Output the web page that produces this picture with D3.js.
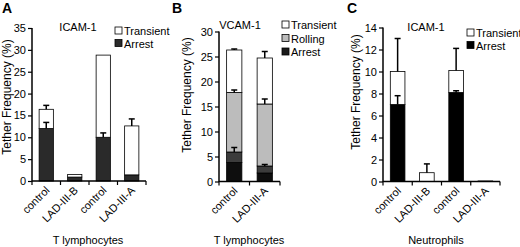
<!DOCTYPE html>
<html>
<head>
<meta charset="utf-8">
<script src="https://cdn.jsdelivr.net/npm/d3@7"></script>
<style>
  body { margin: 0; background: #fff; }
  svg { display: block; font-family: "Liberation Sans", Arial, sans-serif; }
</style>
</head>
<body>
<div id="chart"></div>
<script>
// Panel A - ICAM-1, T lymphocytes
var catsA = ["control", "LAD-III-B", "control", "LAD-III-A"];
var arrestA = [12, 0.9, 10, 1.4];
var arrestErrA = [1.4, 0, 1.0, 0];
var transientA = [4.4, 0.6, 18.8, 11.2];
var transientErrA = [0.9, 0, 0, 1.6];
var ticksA = [0, 5, 10, 15, 20, 25, 30, 35];

// Panel B - VCAM-1, T lymphocytes
var catsB = ["control", "LAD-III-A"];
var arrestB = [3.8, 1.7];
var arrest2B = [2.1, 1.4];
var arrest2ErrB = [0.9, 0.3];
var rollingB = [11.9, 12.4];
var rollingErrB = [0.5, 1.0];
var transientB = [8.5, 9.2];
var transientErrB = [0.2, 1.3];
var ticksB = [0, 5, 10, 15, 20, 25, 30];

// Panel C - ICAM-1, Neutrophils
var catsC = ["control", "LAD-III-B", "control", "LAD-III-A"];
var arrestC = [7.0, 0, 8.1, 0];
var arrestErrC = [0.8, 0, 0.15, 0];
var transientC = [3.0, 0.8, 2.0, 0.05];
var transientErrC = [3.0, 0.8, 2.0, 0];
var ticksC = [0, 2, 4, 6, 8, 10, 12, 14];

var svg = d3.select('#chart').append('svg').attr('width', 520).attr('height', 247);

function drawPanel(p) {
    var x = d3.scaleBand().domain(d3.range(p.cats.length)).range([p.x0, p.x1]).paddingInner(0.5).paddingOuter(0.25);
    var y = d3.scaleLinear().domain([0, p.max]).range([p.y0, p.y1]);
    var g = svg.append('g');

    // stacked segments
    p.series.forEach(function(s, si) {
        g.selectAll(null)
            .data(s.values)
            .enter()
            .append('rect')
            .attr('x', (d, i) => x(i))
            .attr('width', x.bandwidth())
            .attr('y', function(d, i) {
                var base = d3.sum(p.series.slice(0, si), t => t.values[i]);
                return y(base + d);
            })
            .attr('height', function(d, i) {
                var base = d3.sum(p.series.slice(0, si), t => t.values[i]);
                return y(base) - y(base + d);
            })
            .attr('fill', s.color)
            .attr('stroke', '#000')
            .attr('stroke-width', 0.8);
    });

    // error bars
    p.series.forEach(function(s, si) {
        if (!s.err) return;
        s.values.forEach(function(d, i) {
            var e = s.err[i];
            if (!e) return;
            var top = d3.sum(p.series.slice(0, si + 1), t => t.values[i]);
            var cx = x(i) + x.bandwidth() / 2;
            g.append('line').attr('x1', cx).attr('x2', cx)
                .attr('y1', y(top)).attr('y2', y(top + e))
                .attr('stroke', '#000').attr('stroke-width', 1.5);
            g.append('line').attr('x1', cx - 3).attr('x2', cx + 3)
                .attr('y1', y(top + e)).attr('y2', y(top + e))
                .attr('stroke', '#000').attr('stroke-width', 1.5);
        });
    });

    // y axis
    var ya = g.append('g').attr('transform', 'translate(' + p.x0 + ',0)')
        .call(d3.axisLeft(y).tickValues(p.ticks).tickSize(4).tickSizeOuter(0));
    ya.select('.domain').attr('stroke-width', 1.5).attr('d', 'M0,' + (p.y0 + 0.5) + 'V' + p.y1);
    ya.selectAll('.tick line').attr('stroke-width', 1.2);
    ya.selectAll('text').attr('font-size', 11).attr('font-family', null).attr('x', -6);

    // x axis
    var xa = g.append('g').attr('transform', 'translate(0,' + p.y0 + ')');
    xa.append('line').attr('x1', p.x0).attr('x2', p.x1).attr('stroke', '#000').attr('stroke-width', 1.5);
    var step = (p.x1 - p.x0) / p.cats.length;
    xa.selectAll('.xt')
        .data(d3.range(p.cats.length + 1))
        .enter()
        .append('line')
        .attr('x1', d => p.x0 + d * step).attr('x2', d => p.x0 + d * step)
        .attr('y1', 0).attr('y2', 4)
        .attr('stroke', '#000').attr('stroke-width', 1.2);
    xa.selectAll('.xl')
        .data(p.cats)
        .enter()
        .append('text')
        .attr('text-anchor', 'end')
        .attr('font-size', 11)
        .attr('transform', (d, i) => 'translate(' + (x(i) + x.bandwidth() / 2 + 4) + ',10) rotate(-45)')
        .text(d => d);

    // labels
    g.append('text').attr('x', p.letterX).attr('y', 13).attr('font-size', 14).attr('font-weight', 'bold').text(p.letter);
    g.append('text').attr('x', p.titleX).attr('y', p.titleY).attr('text-anchor', 'middle').attr('font-size', 11).text(p.title);
    g.append('text')
        .attr('transform', 'translate(' + p.ylabX + ',' + p.ylabY + ') rotate(-90)')
        .attr('text-anchor', 'middle').attr('font-size', 12)
        .text('Tether Frequency (%)');
    g.append('text').attr('x', p.bottomX).attr('y', 244).attr('text-anchor', 'middle').attr('font-size', 11).text(p.bottom);

    // legend
    var leg = g.selectAll('.leg')
        .data(p.legend)
        .enter()
        .append('g')
        .attr('transform', (d, i) => 'translate(' + p.legX + ',' + (p.legY + i * p.legStep) + ')');
    leg.append('rect').attr('x', 0).attr('y', -4).attr('width', 7).attr('height', 7)
        .attr('fill', d => d.color).attr('stroke', '#000').attr('stroke-width', 0.8);
    leg.append('text').attr('x', 9).attr('y', 4).attr('font-size', 11).text(d => d.name);
}

drawPanel({
    cats: catsA, max: 35, ticks: ticksA,
    x0: 32, x1: 146, y0: 181, y1: 28,
    series: [
        { values: arrestA, err: arrestErrA, color: '#2a2a2a' },
        { values: transientA, err: transientErrA, color: '#fff' }
    ],
    letter: 'A', letterX: 2, title: 'ICAM-1', titleX: 78, titleY: 31,
    ylabX: 11, ylabY: 97, bottom: 'T lymphocytes', bottomX: 88,
    legend: [{ name: 'Transient', color: '#fff' }, { name: 'Arrest', color: '#2a2a2a' }],
    legX: 115, legY: 31, legStep: 12.5
});

drawPanel({
    cats: catsB, max: 30, ticks: ticksB,
    x0: 219, x1: 280, y0: 181.5, y1: 31.5,
    series: [
        { values: arrestB, err: null, color: '#0e0e0e' },
        { values: arrest2B, err: arrest2ErrB, color: '#3c3c3c' },
        { values: rollingB, err: rollingErrB, color: '#bcbcbc' },
        { values: transientB, err: transientErrB, color: '#fff' }
    ],
    letter: 'B', letterX: 172, title: 'VCAM-1', titleX: 240, titleY: 29,
    ylabX: 191, ylabY: 95, bottom: 'T lymphocytes', bottomX: 249,
    legend: [{ name: 'Transient', color: '#fff' }, { name: 'Rolling', color: '#bcbcbc' }, { name: 'Arrest', color: '#1a1a1a' }],
    legX: 282, legY: 25, legStep: 13.5
});

drawPanel({
    cats: catsC, max: 14, ticks: ticksC,
    x0: 383, x1: 500, y0: 181.5, y1: 27.5,
    series: [
        { values: arrestC, err: arrestErrC, color: '#000' },
        { values: transientC, err: transientErrC, color: '#fff' }
    ],
    letter: 'C', letterX: 347, title: 'ICAM-1', titleX: 426, titleY: 31,
    ylabX: 360, ylabY: 92, bottom: 'Neutrophils', bottomX: 436,
    legend: [{ name: 'Transient', color: '#fff' }, { name: 'Arrest', color: '#000' }],
    legX: 467, legY: 33, legStep: 12.5
});
</script>
</body>
</html>
